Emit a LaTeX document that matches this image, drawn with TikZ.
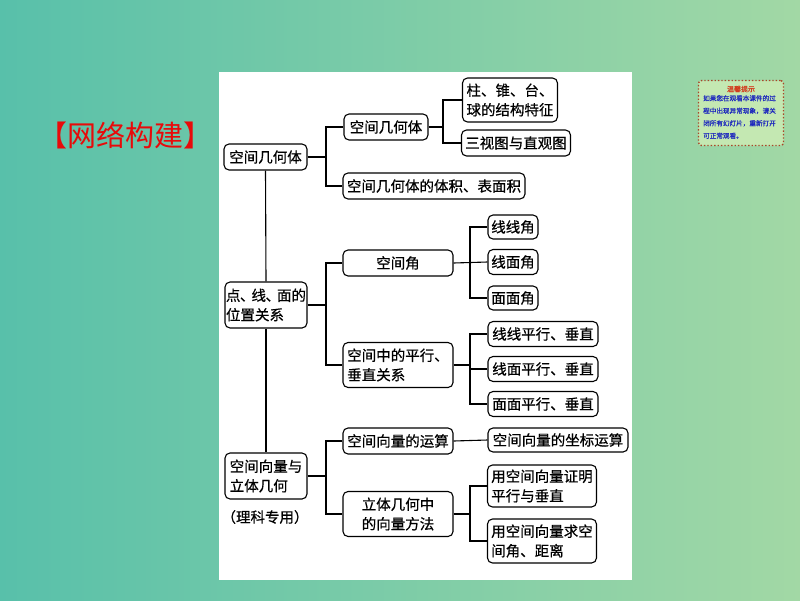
\documentclass[tikz,border=0pt]{standalone}
\usepackage{fontspec}
\newfontfamily\cjk[FakeBold=0.6]{Noto Sans CJK SC}
\newfontfamily\cjkt{Noto Sans CJK SC}
\definecolor{bgL}{RGB}{88,192,170}
\definecolor{bgR}{RGB}{162,216,165}
\definecolor{titlered}{RGB}{232,10,10}
\definecolor{notefill}{RGB}{196,232,178}
\definecolor{noteborder}{RGB}{170,70,40}
\definecolor{notetitle}{RGB}{210,60,30}
\definecolor{noteblue}{RGB}{30,40,190}
\newcommand{\dun}{\kern-0.5pt、\kern-3pt}
\tikzset{
  box/.style={draw, rounded corners=5pt, line width=1.1pt, inner xsep=0.5pt, inner ysep=1pt,
    font=\cjk\fontsize{14.5}{19.5}\selectfont, align=center},
  lbox/.style={box, align=left},
  conn/.style={line width=1.1pt},
}
\begin{document}
\begin{tikzpicture}[x=1pt,y=-1pt]
\useasboundingbox (0,0) rectangle (800,600);
\shade[left color=bgL, right color=bgR] (0,0) rectangle (800,600);
\fill[white] (219,72) rectangle (632,580);

% title
\node[font=\cjkt\fontsize{29}{30}\selectfont, text=titlered, inner sep=0] (title) at (125,135) {【网络构建】};

% notice box
\node[draw=noteborder, line width=1.4pt, dotted, fill=notefill, rounded corners=3pt,
  minimum width=85pt, minimum height=65pt] (notebox) at (741,113) {};
\node[font=\cjk\fontsize{7}{8}\selectfont, text=notetitle, inner sep=0] (notet) at (741,89) {温馨提示};
\node[font=\cjk\fontsize{6.6}{12.5}\selectfont, text=noteblue, align=left, inner sep=0, anchor=north west] (noteb) at (703,95)
  {如果您在观看本课件的过\\程中出现异常现象，请关\\闭所有幻灯片，重新打开\\可正常观看。};

% level 1
\node[box, minimum width=83pt, minimum height=26pt] (l1a) at (265.5,157) {空间几何体};
\node[lbox, minimum width=82pt, minimum height=46pt] (l1b) at (266,305) {点\dun 线\dun 面的\\位置关系};
\node[lbox, minimum width=82pt, minimum height=46pt] (l1c) at (266,476) {空间向量与\\立体几何};
\node[font=\cjk\fontsize{14.5}{16}\selectfont, inner sep=0] (sci) at (265,517) {（理科专用）};

% group 1
\node[box, minimum width=84pt, minimum height=26pt] (g1a) at (386,127) {空间几何体};
\node[box, minimum width=182pt, minimum height=26pt] (g1b) at (434,186) {空间几何体的体积、表面积};
\node[lbox, minimum width=95pt, minimum height=44pt] (s1) at (510,100) {柱、锥、台、\\球的结构特征};
\node[box, minimum width=109pt, minimum height=26pt] (s2) at (516,143) {三视图与直观图};

% group 2
\node[box, minimum width=110pt, minimum height=26pt] (m1) at (398,263) {空间角};
\node[lbox, minimum width=110pt, minimum height=45pt] (m2) at (398,365) {空间中的平行、\\垂直关系};
\node[box, minimum width=50pt, minimum height=24pt] (a1) at (513,227) {线线角};
\node[box, minimum width=50pt, minimum height=25pt] (a2) at (513,262) {线面角};
\node[box, minimum width=50pt, minimum height=24pt] (a3) at (513,298) {面面角};
\node[box, minimum width=110pt, minimum height=25pt] (p1) at (543,334) {线线平行、垂直};
\node[box, minimum width=110pt, minimum height=25pt] (p2) at (543,369) {线面平行、垂直};
\node[box, minimum width=110pt, minimum height=25pt] (p3) at (543,404) {面面平行、垂直};

% group 3
\node[box, minimum width=110pt, minimum height=26pt] (v1) at (398,441) {空间向量的运算};
\node[box, minimum width=110pt, minimum height=45pt] (v2) at (398,514) {立体几何中\\的向量方法};
\node[box, minimum width=140pt, minimum height=24pt] (vc) at (558,440) {空间向量的坐标运算};
\node[lbox, minimum width=109pt, minimum height=42pt] (vd) at (542,486) {用空间向量证明\\平行与垂直};
\node[lbox, minimum width=109pt, minimum height=44pt] (ve) at (542,541) {用空间向量求空\\间角、距离};

% junction x positions
\coordinate (j1) at (326,0);
\coordinate (j2) at (443,0);
\coordinate (j3) at (470,0);

% trunk
\draw[conn] (l1a.south) -- (l1b.north);
\draw[conn] (l1b.south) -- (l1c.north);

% connectors
\draw[conn] (l1a.east) -- (l1a.east -| j1) |- (g1a.west);
\draw[conn] (l1a.east -| j1) |- (g1b.west);
\draw[conn] (g1a.east) -- (g1a.east -| j2) |- (s1.west);
\draw[conn] (g1a.east -| j2) |- (s2.west);

\draw[conn] (l1b.east) -- (l1b.east -| j1) |- (m1.west);
\draw[conn] (l1b.east -| j1) |- (m2.west);
\draw[conn] (m1.east) -- (a2.west);
\draw[conn] (m1.east -| j3) |- (a1.west);
\draw[conn] (m1.east -| j3) |- (a3.west);
\draw[conn] (m2.east) -- (m2.east -| j3) |- (p1.west);
\draw[conn] (m2.east -| j3) |- (p2.west);
\draw[conn] (m2.east -| j3) |- (p3.west);

\draw[conn] (l1c.east) -- (l1c.east -| j1) |- (v1.west);
\draw[conn] (l1c.east -| j1) |- (v2.west);
\draw[conn] (v1.east) -- (vc.west);
\draw[conn] (v2.east) -- (v2.east -| j3) |- (vd.west);
\draw[conn] (v2.east -| j3) |- (ve.west);
\end{tikzpicture}
\end{document}
